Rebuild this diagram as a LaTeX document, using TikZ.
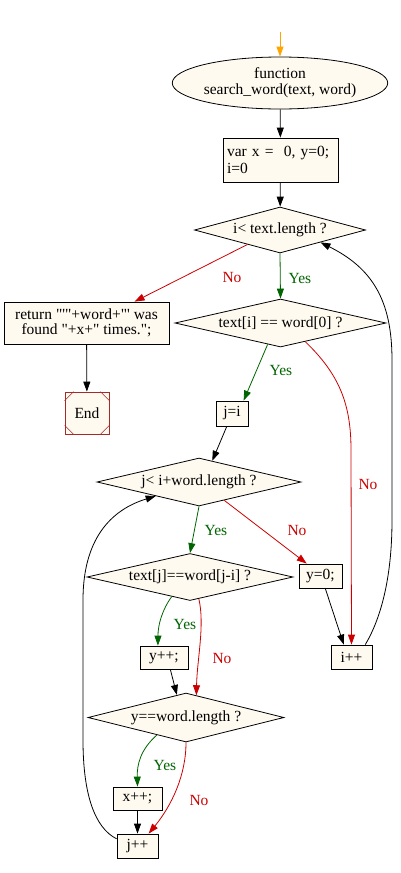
\documentclass[tikz,border=0pt]{standalone}
\usepackage{fontspec}
\newfontfamily\diagfont{Liberation Serif}
\usetikzlibrary{shapes.geometric,arrows.meta,calc}
\definecolor{nodefill}{HTML}{FFFAF0}
\definecolor{yesgreen}{HTML}{006400}
\definecolor{nored}{HTML}{CC0000}
\definecolor{startorange}{HTML}{FFA500}
\definecolor{endbrown}{HTML}{A52A2A}
\begin{document}
\begin{tikzpicture}[x=1pt,y=-1pt,
  every node/.style={font=\diagfont\fontsize{15.5}{17}\selectfont},
  base/.style={draw=black,fill=nodefill,line width=0.8pt,inner sep=0pt},
  boxnode/.style={base,rectangle,align=center},
  decision/.style={base,diamond},
  ovalnode/.style={base,ellipse},
  flow/.style={line width=0.8pt,-{Triangle[length=10pt,width=7pt]}},
  yesline/.style={flow,draw=yesgreen},
  noline/.style={flow,draw=nored},
  blackline/.style={flow,draw=black},
  yeslabel/.style={text=yesgreen,inner sep=0pt},
  nolabel/.style={text=nored,inner sep=0pt}]
\useasboundingbox (0,0) rectangle (401,873);

% nodes
\coordinate (start) at (280,32);
\node[ovalnode,minimum width=186,minimum height=52,align=center] (fn) at (280,83)
  {function\\[-1pt]search\_word(text, word)};
\node[boxnode,minimum width=115,minimum height=44,text width=107,align=left] (init) at (280.5,160)
  {var x =\ \ 0, y=0;\\i=0};
\node[decision,aspect=3.72,minimum width=171,minimum height=46] (d1) at (280,230) {i< text.length ?};
\node[decision,aspect=4.4,minimum width=211,minimum height=48] (d2) at (280.5,323) {text[i] == word[0] ?};
\node[boxnode,minimum width=165,minimum height=42] (ret) at (86.5,323)
  {return "'"+word+"' was\\[-2pt]found "+x+" times.";};
\node[boxnode,draw=endbrown,minimum width=44,minimum height=42] (end) at (87,413) {End};
\draw[endbrown,line width=0.6pt]
  ($(end.north west)+(0,9)$) -- ($(end.north west)+(9,0)$)
  ($(end.north east)+(0,9)$) -- ($(end.north east)+(-9,0)$)
  ($(end.south west)+(0,-9)$) -- ($(end.south west)+(9,0)$)
  ($(end.south east)+(0,-9)$) -- ($(end.south east)+(-9,0)$);
\node[boxnode,minimum width=32,minimum height=25] (ji) at (232,413.5) {j=i};
\node[decision,aspect=4.25,minimum width=204,minimum height=48] (d3) at (199,482) {j< i+word.length ?};
\node[decision,aspect=4.38,minimum width=206,minimum height=47] (d4) at (190,577) {text[j]==word[j-i] ?};
\node[boxnode,minimum width=43,minimum height=24] (y0) at (320.5,576) {y=0;};
\node[boxnode,minimum width=41,minimum height=24] (ipp) at (351.5,657) {i++};
\node[boxnode,minimum width=48,minimum height=23] (ypp) at (164,657.5) {y++;};
\node[decision,aspect=4,minimum width=196,minimum height=49] (d5) at (186,717.5) {y==word.length ?};
\node[boxnode,minimum width=49,minimum height=23] (xpp) at (137.5,798.5) {x++;};
\node[boxnode,minimum width=41,minimum height=24] (jpp) at (137.5,846) {j++};

% edges
\draw[flow,draw=startorange] (start) -- (fn);
\draw[blackline] (fn) -- (init);
\draw[blackline] (init) -- (d1);
\draw[yesline] (d1.south) -- (d2.north);
\node[yeslabel] (l1) at (300,278) {Yes};
\draw[noline] (d1.-156) -- (ret.24.3);
\node[nolabel] (l2) at (232,277) {No};
\draw[blackline] (ret) -- (end);
\draw[yesline] (d2.-121) -- (ji.48.7);
\node[yeslabel] (l3) at (281,370) {Yes};
\draw[noline] (d2.-37) .. controls (340,375) and (351,405) .. (351,450) -- (ipp.north);
\node[nolabel] (l4) at (368,484) {No};
\draw[blackline] (ipp.42) .. controls (380,620) and (392,580) .. (392,520) -- (392,360)
  .. controls (392,300) and (372,268) .. (d1.-17);
\draw[blackline] (ji.-112) -- (d3.58);
\draw[yesline] (d3.south) -- (d4.north);
\node[yeslabel] (l5) at (216,530) {Yes};
\draw[noline] (d3.-36.2) -- (y0.138);
\node[nolabel] (l6) at (297,530) {No};
\draw[blackline] (y0.-69.4) -- (ipp.122);
\draw[yesline] (d4.-133.5) .. controls (162,610) and (158,625) .. (ypp.117.5);
\node[yeslabel] (l7) at (185,624) {Yes};
\draw[noline] (d4.-68) .. controls (205,625) and (197,660) .. (d5.65);
\node[nolabel] (l8) at (222,658) {No};
\draw[blackline] (ypp.-62) -- (d5.112.4);
\draw[yesline] (d5.-149.6) .. controls (140,750) and (137,765) .. (xpp.north);
\node[yeslabel] (l9) at (165,765) {Yes};
\draw[noline] (d5.south) .. controls (186,775) and (172,805) .. (jpp.48.8);
\node[nolabel] (l10) at (199,800) {No};
\draw[blackline] (xpp) -- (jpp);
\draw[blackline] (jpp.161) .. controls (95,828) and (83,795) .. (83,740) -- (83,600)
  .. controls (83,540) and (110,510) .. (d3.198.8);
\end{tikzpicture}
\end{document}
